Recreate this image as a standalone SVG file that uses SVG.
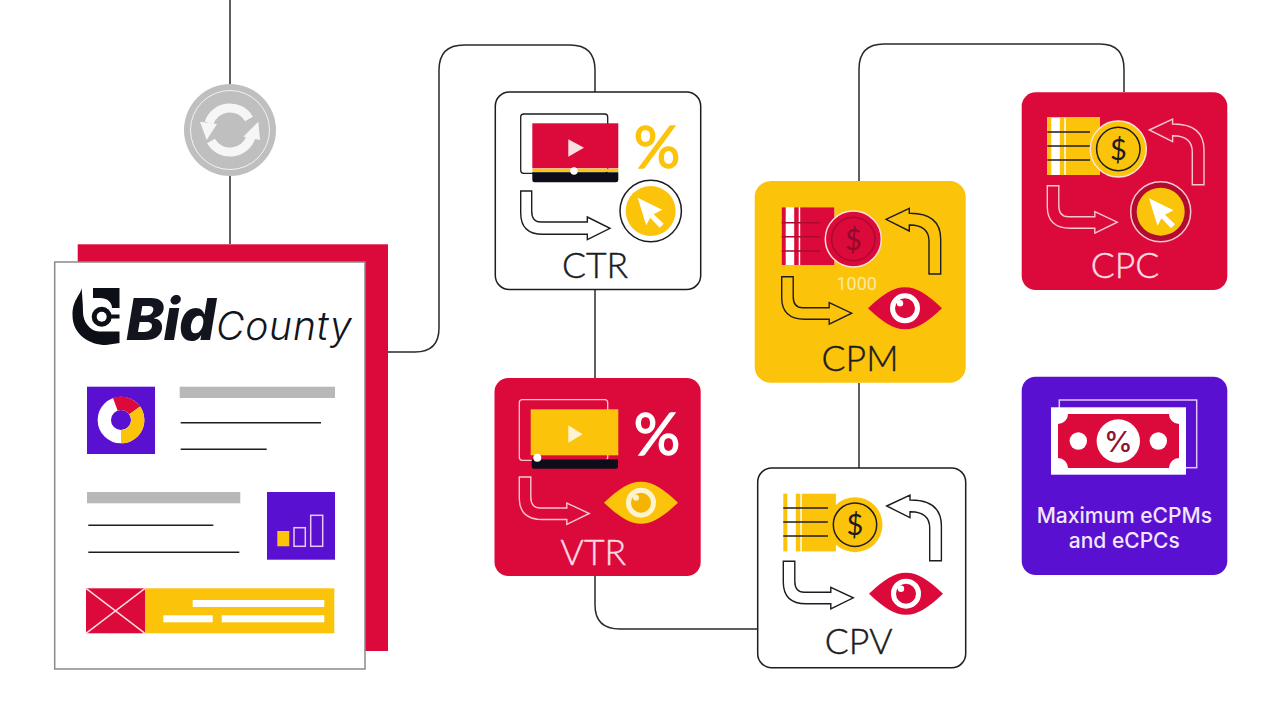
<svg xmlns="http://www.w3.org/2000/svg" width="1280" height="720" viewBox="0 0 1280 720">
<style>
.conn{fill:none;stroke:#2a2a2e;stroke-width:1.5}
.lab{font-family:"Lato","Open Sans",sans-serif;font-weight:300;font-size:35.500px;text-anchor:middle;stroke-width:.45}
.pct{font-family:"Lato","Open Sans",sans-serif;font-weight:400;font-size:58px;text-anchor:middle;stroke-width:1.300}
.usd{font-family:"Lato","Open Sans",sans-serif;font-size:29px;text-anchor:middle}
.ln{stroke:#1c1c22;stroke-width:1.500;fill:none}
.node{stroke:#1c1c22;stroke-width:1.500;fill:#fff}
.bar{fill:#b8b8b8}
.wb{fill:#fff}
.arr{fill:none;stroke-width:1.400;stroke-linejoin:miter}
.max{font-family:"Inter","Roboto",sans-serif;font-weight:500;font-size:21px;fill:#f3e6ff;text-anchor:middle}
</style>
<defs>
<path id="aLong" d="M0 0H11V20Q11 31 20 31H66.600V26L89.300 37.300L66.600 48.700V43.300H22Q0 43.300 0 22Z"/>
<path id="aShort" d="M0 0H11.500V20Q11.500 31 21 31H47.500V26L70 36.500L47.500 47.500V42.500H23Q0 42.500 0 21Z"/>
<path id="aLoop" d="M0 0L23.300 -11V-6H24Q54.700 -6 54.700 20V54.700H43V22Q43 6 24 5.700H23.300V11.700Z"/>
<g id="stack">
<rect width="52.600" height="57.700" fill="#fff"/>
<rect width="4" height="57.700" fill="currentColor"/>
<rect x="12.500" width="4.500" height="57.700" fill="currentColor"/>
<rect x="18.500" width="34.100" height="57.700" fill="currentColor"/>
</g>
<path id="eye" d="M-37 0C-22 -14 -12 -21 0 -21C12 -21 22 -14 37 0C22 14 12 21 0 21C-12 21 -22 14 -37 0Z"/>
<path id="ptr" d="M0 0L24.500 12L16 16.500L26 26L22 30L12.500 20L8.500 27.500Z" fill="#fff"/>
</defs>
<rect width="1280" height="720" fill="#fff"/>

<g id="connectors">
<path class="conn" d="M230 0V84M230 176V244"/>
<path class="conn" d="M388 352H415Q439 352 439 328V70Q439 45 464 45H570Q595 45 595 70V92"/>
<path class="conn" d="M595 290V378"/>
<path class="conn" d="M595 576V605Q595 629 620 629H758"/>
<path class="conn" d="M859 383V468"/>
<path class="conn" d="M859 181V69Q859 44 884 44H1100Q1124 44 1124 69V92"/>
</g>

<g id="sync">
<circle cx="230" cy="130" r="46" fill="#bfbfbf"/>
<circle cx="230" cy="130" r="39.500" fill="none" stroke="#f2f2f2" stroke-width="1"/>
<path d="M209 123A22 22 0 0 1 249 119" fill="none" stroke="#f6f6f6" stroke-width="9"/>
<path d="M251 137A22 22 0 0 1 211 141" fill="none" stroke="#f6f6f6" stroke-width="9"/>
<path d="M200 121.700L217 124L206.700 140Z" fill="#f6f6f6"/>
<path d="M258.300 121.700L260 140L243.300 136.700Z" fill="#f6f6f6"/>
</g>

<g id="document">
<rect x="77.700" y="244.300" width="310.300" height="406.700" fill="#dc0a3a"/>
<rect x="54.700" y="262" width="310.300" height="407" fill="#fff" stroke="#8a8a8a" stroke-width="1.500"/>
<g id="logo">
<path d="M81.700 288C80 296 72.500 300 72.500 315C72.500 335 90 345 106 345L119.500 343V331.500H99C90 331 83 322 83 312C83 303 82 296 81.700 288Z" fill="#0d0f17"/>
<path d="M93 288H119.500V308H112C112 302 107 298 100 298H93Z" fill="#0d0f17"/>
<circle cx="101.700" cy="316.700" r="10" fill="#0d0f17"/>
<rect x="104" y="314.500" width="15.500" height="4" fill="#0d0f17"/>
<circle cx="101.700" cy="316.700" r="5" fill="#fff"/>
<text x="126" y="340" font-family="Inter,Roboto,sans-serif" font-style="italic" font-weight="800" font-size="58" fill="#12141e" letter-spacing="-1">Bid</text>
<text x="216" y="339.500" font-family="Inter,Roboto,sans-serif" font-style="italic" font-weight="300" font-size="39" fill="#12141e" letter-spacing=".8">County</text>
</g>
<rect x="87" y="386.700" width="68" height="67.300" fill="#5a10d0"/>
<circle cx="121" cy="420" r="16.700" fill="none" stroke="#fff" stroke-width="13.300"/>
<path d="M115.300 404.300A16.700 16.700 0 0 1 134.700 410.400" fill="none" stroke="#dc0a3a" stroke-width="13.300"/>
<path d="M134.700 410.400A16.700 16.700 0 0 1 121 436.700" fill="none" stroke="#fcc30b" stroke-width="13.300"/>
<rect class="bar" x="179.700" y="386.700" width="155.300" height="11.300"/>
<path class="ln" d="M180.700 422.700H321M180.700 449.300H266.700M88.300 525.300H213.300M88.300 552.300H239.300"/>
<rect class="bar" x="87" y="492" width="153.300" height="11.300"/>
<rect x="267" y="492" width="68" height="67.700" fill="#5a10d0"/>
<rect x="277.300" y="531" width="12" height="15.300" fill="#fcc30b"/>
<rect x="294" y="527.700" width="11.300" height="18.600" fill="none" stroke="#ecc6f5" stroke-width="1.500"/>
<rect x="310.700" y="515.300" width="12" height="31" fill="none" stroke="#ecc6f5" stroke-width="1.500"/>
<rect x="86" y="588.300" width="59" height="45" fill="#dc0a3a"/>
<path d="M86 588.300L145 633.300M145 588.300L86 633.300" stroke="#fbdbe0" stroke-width="1.500"/>
<rect x="145" y="588.300" width="189.300" height="45" fill="#fcc30b"/>
<rect class="wb" x="192.700" y="600" width="131.600" height="7"/>
<rect class="wb" x="163.300" y="615.300" width="49.400" height="7"/>
<rect class="wb" x="221.700" y="615.300" width="102.600" height="7"/>
</g>

<g id="ctr">
<rect class="node" x="495.300" y="92" width="205.400" height="197.500" rx="14"/>
<rect x="520.700" y="114" width="87" height="59.300" rx="3" fill="none" stroke="#1c1c22" stroke-width="1.300"/>
<rect x="532.300" y="123.300" width="86" height="45" fill="#dc0a3a"/>
<path d="M532.300 172.300H618.300V180A2.300 2.300 0 0 1 616 182.300H534.600A2.300 2.300 0 0 1 532.300 180Z" fill="#0d0d1a"/>
<rect x="532.300" y="168.700" width="86" height="3.200" fill="#fcc30b"/>
<circle cx="574" cy="171" r="3.700" fill="#fff"/>
<path d="M568.300 139.300L584 147.700L568.300 156.700Z" fill="#f9dfe4"/>
<text class="pct" x="657" y="168" fill="#fcc30b" stroke="#fcc30b">%</text>
<use href="#aLong" x="520.700" y="191" class="arr" stroke="#1c1c22"/>
<circle cx="650.700" cy="211" r="30.700" fill="#fff" stroke="#1c1c22" stroke-width="1.500"/>
<circle cx="650.700" cy="211" r="25" fill="#fcc30b"/>
<use href="#ptr" x="637.700" y="197.700"/>
<text class="lab" x="595" y="277.700" fill="#1c1c22" stroke="#1c1c22">CTR</text>
</g>

<g id="vtr">
<rect x="494.500" y="378" width="206.200" height="198" rx="14" fill="#dc0a3a"/>
<rect x="519.300" y="399.700" width="88.400" height="60.600" rx="3" fill="none" stroke="#fbc6d0" stroke-width="1.300"/>
<rect x="530.700" y="409.300" width="87.600" height="46" fill="#fcc30b"/>
<path d="M531.700 459.300H618V466.400A2.300 2.300 0 0 1 615.700 468.700H534A2.300 2.300 0 0 1 531.700 466.400Z" fill="#0d0d1a"/>
<circle cx="537.300" cy="457.700" r="4" fill="#fff"/>
<path d="M568.300 425.300L582.700 434.300L568.300 442.700Z" fill="#fdf3d0"/>
<text class="pct" x="657" y="455" fill="#fff" stroke="#fff">%</text>
<use href="#aShort" x="519.300" y="477" class="arr" stroke="#fbc6d0"/>
<use href="#eye" x="641" y="502.700" fill="#fcc30b"/>
<circle cx="641" cy="502.700" r="12.500" fill="#f5b400" stroke="#fdf3d0" stroke-width="5"/>
<circle cx="636" cy="497.700" r="3" fill="#fdf3d0"/>
<text class="lab" x="593.300" y="564.700" fill="#fbdbe0" stroke="#fbdbe0">VTR</text>
</g>

<g id="cpm">
<rect x="754.700" y="181" width="211" height="201.700" rx="16" fill="#fcc30b"/>
<use href="#stack" x="781.700" y="207.300" color="#dc0a3a"/>
<path d="M781.700 222.700H820M781.700 236.700H820M781.700 251H820" stroke="#a80a30" stroke-width="1.500"/>
<circle cx="853.300" cy="239" r="28" fill="#dc0a3a" stroke="#fde3d8" stroke-width="1.500"/>
<circle cx="853.300" cy="239" r="21.700" fill="none" stroke="#a80a30" stroke-width="1.500"/>
<text class="usd" x="853.300" y="249.500" fill="#8f0a2c">$</text>
<use href="#aLoop" x="886" y="219.300" class="arr" stroke="#1c1c22"/>
<text x="856.700" y="290" font-family="Roboto,sans-serif" font-size="18" fill="#fdeaa0" text-anchor="middle">1000</text>
<use href="#aShort" x="781.700" y="276.700" class="arr" stroke="#1c1c22"/>
<use href="#eye" x="905" y="308.300" fill="#dc0a3a"/>
<circle cx="905" cy="308.300" r="12.500" fill="#dc0a3a" stroke="#fff" stroke-width="5"/>
<circle cx="900" cy="303.300" r="3.200" fill="#fff"/>
<text class="lab" x="860" y="371" fill="#1c1c22" stroke="#1c1c22">CPM</text>
</g>

<g id="cpv">
<rect class="node" x="757.700" y="468" width="208" height="199.700" rx="14"/>
<use href="#stack" x="783.300" y="493.700" color="#fcc30b"/>
<path d="M783.300 508H828M783.300 522H828M783.300 536H828" stroke="#1c1c22" stroke-width="1.500"/>
<circle cx="855" cy="524.700" r="27.500" fill="#fcc30b"/>
<circle cx="855" cy="524.700" r="21.700" fill="none" stroke="#1c1c22" stroke-width="1.500"/>
<text class="usd" x="855" y="535" fill="#1c1c22">$</text>
<use href="#aLoop" x="886.700" y="506" class="arr" stroke="#1c1c22"/>
<use href="#aShort" x="783.300" y="561.300" class="arr" stroke="#1c1c22"/>
<use href="#eye" x="906" y="593.700" fill="#dc0a3a"/>
<circle cx="906" cy="593.700" r="12.500" fill="#dc0a3a" stroke="#fff" stroke-width="5"/>
<circle cx="901" cy="588.700" r="3.200" fill="#fff"/>
<text class="lab" x="858.700" y="653.700" fill="#1c1c22" stroke="#1c1c22">CPV</text>
</g>

<g id="cpc">
<rect x="1021.700" y="92.300" width="205.600" height="197.700" rx="14" fill="#dc0a3a"/>
<use href="#stack" x="1047.300" y="117.300" color="#fcc30b"/>
<path d="M1047.300 132H1090M1047.300 146H1090M1047.300 160H1090" stroke="#1c1c22" stroke-width="1.500"/>
<circle cx="1118.300" cy="149" r="28" fill="#fcc30b" stroke="#fde3d8" stroke-width="1.500"/>
<circle cx="1118.300" cy="149" r="21.700" fill="none" stroke="#1c1c22" stroke-width="1.500"/>
<text class="usd" x="1118.300" y="159.500" fill="#1c1c22">$</text>
<use href="#aLoop" x="1149.300" y="130" class="arr" stroke="#fbc6d0"/>
<use href="#aShort" x="1047.300" y="185.700" class="arr" stroke="#fbc6d0"/>
<circle cx="1160.700" cy="211.700" r="30" fill="#b30a30" stroke="#fbc6d0" stroke-width="1.500"/>
<circle cx="1160.700" cy="211.700" r="24" fill="#fcc30b"/>
<use href="#ptr" x="1149" y="198.300"/>
<text class="lab" x="1125" y="277.700" fill="#fbdbe0" stroke="#fbdbe0">CPC</text>
</g>

<g id="maximum">
<rect x="1021.700" y="376.700" width="205.600" height="198.300" rx="14" fill="#5a10d0"/>
<rect x="1059.300" y="400" width="137.400" height="67.700" fill="none" stroke="#e3c6f7" stroke-width="1.500"/>
<rect x="1051" y="407.300" width="135" height="67.400" fill="#fff"/>
<path d="M1068 414H1169A10 10 0 0 0 1179 424V458A10 10 0 0 0 1169 468H1068A10 10 0 0 0 1058 458V424A10 10 0 0 0 1068 414Z" fill="#dc0a3a"/>
<circle cx="1118.300" cy="441" r="21.700" fill="#fff"/>
<circle cx="1078.300" cy="441" r="8.700" fill="#fff"/>
<circle cx="1158.300" cy="441" r="8.700" fill="#fff"/>
<text x="1118.300" y="451.500" font-family="Inter,Roboto,sans-serif" font-weight="500" font-size="29" fill="#8f1230" text-anchor="middle">%</text>
<text class="max" x="1124.300" y="523">Maximum eCPMs</text>
<text class="max" x="1124.300" y="548.300">and eCPCs</text>
</g>
</svg>
